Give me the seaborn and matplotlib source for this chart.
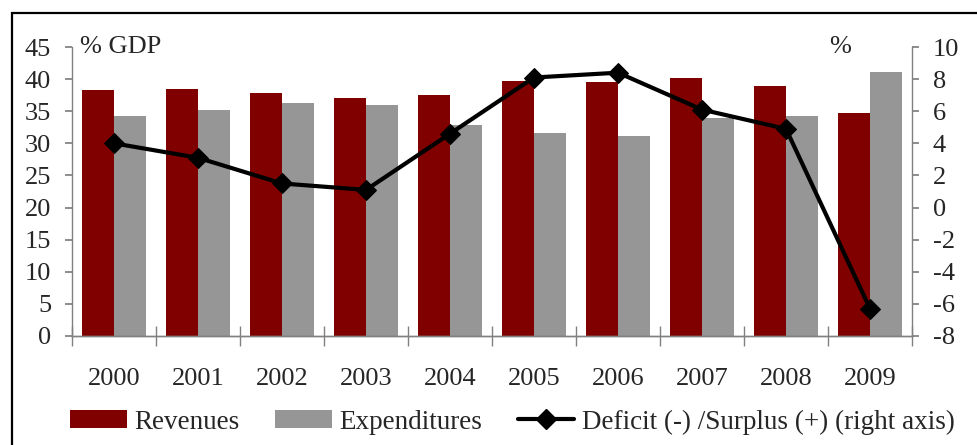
import numpy as np
import pandas as pd
import matplotlib
matplotlib.use("Agg")
import matplotlib.pyplot as plt
from matplotlib.patches import Patch, Rectangle
from matplotlib.lines import Line2D
import seaborn as sns

years = ["2000", "2001", "2002", "2003", "2004", "2005", "2006", "2007", "2008", "2009"]
revenues = [38.3, 38.5, 37.9, 37.1, 37.5, 39.7, 39.5, 40.2, 38.9, 34.7]
expenditures = [34.3, 35.2, 36.3, 36.0, 32.9, 31.6, 31.2, 34.0, 34.3, 41.1]
balance = [4.0, 3.1, 1.5, 1.1, 4.6, 8.1, 8.4, 6.1, 4.9, -6.3]

RED = "#800000"
GREY = "#969696"
AXC = "#808080"

sns.set_theme(style="white")
plt.rcParams["font.family"] = ["Liberation Serif", "DejaVu Serif"]
plt.rcParams["axes.unicode_minus"] = False

df = pd.DataFrame({"year": years * 2,
                   "value": revenues + expenditures,
                   "series": ["Revenues"] * 10 + ["Expenditures"] * 10})

fig = plt.figure(figsize=(9.78, 4.45), dpi=100)
ax = fig.add_axes([72 / 978, 1 - 336 / 445, 840 / 978, 289 / 445])

sns.barplot(data=df, x="year", y="value", hue="series", palette=[RED, GREY],
            width=0.76, saturation=1, gap=0, linewidth=0, ax=ax, legend=False)
ax.set_xlim(-0.5, 9.5)
ax.set_ylim(0, 45)
ax.set_yticks(range(0, 46, 5))
ax.set_xlabel("")
ax.set_ylabel("")

ax2 = ax.twinx()
sns.lineplot(x=np.arange(len(years)), y=balance, ax=ax2, color="black",
             linewidth=3, marker="D", markersize=10, markeredgecolor="black")
ax2.set_ylim(-8, 10)
ax2.set_yticks(range(-8, 11, 2))
ax2.set_xlim(-0.5, 9.5)

for a in (ax, ax2):
    a.spines["top"].set_visible(False)
    for s in ("left", "right", "bottom"):
        a.spines[s].set_color(AXC)
        a.spines[s].set_linewidth(1)
ax.spines["right"].set_visible(False)
ax2.spines["left"].set_visible(False)

ax.tick_params(axis="y", direction="out", length=5, color=AXC, labelsize=19, pad=10, left=True)
ax2.tick_params(axis="y", direction="out", length=5, color=AXC, labelsize=19, pad=10, right=True)
ax.set_xticks(np.arange(len(years)))
ax.set_xticklabels(years)
ax.set_xticks(np.arange(-0.5, 10, 1), minor=True)
ax.tick_params(axis="x", which="major", length=0, labelsize=19, pad=23)
ax.tick_params(axis="x", which="minor", direction="inout", length=14, color=AXC, bottom=True)

ax.text(80 / 978, 1 - 47 / 445, "% GDP", transform=fig.transFigure, fontsize=19,
        va="center", ha="left")
ax.text(840 / 978, 1 - 47 / 445, "%", transform=fig.transFigure, fontsize=19,
        va="center", ha="center")

handles = [Patch(facecolor=RED, edgecolor="none"),
           Patch(facecolor=GREY, edgecolor="none"),
           Line2D([0], [0], color="black", linewidth=3, marker="D", markersize=10)]
labels = ["Revenues", "Expenditures", "Deficit (-) /Surplus (+) (right axis)"]
fig.legend(handles, labels, loc="center", bbox_to_anchor=(0.524, 1 - 422 / 445),
           ncol=3, frameon=False, fontsize=19.5, handlelength=2.1, handleheight=0.65,
           handletextpad=0.28, columnspacing=1.3, borderpad=0)

fig.patches.append(Rectangle((12 / 978, -0.05), 1.0, 1 - 13 / 445 + 0.05,
                             transform=fig.transFigure, fill=False,
                             edgecolor="black", linewidth=1.6))

fig.savefig("out.png", dpi=100)
